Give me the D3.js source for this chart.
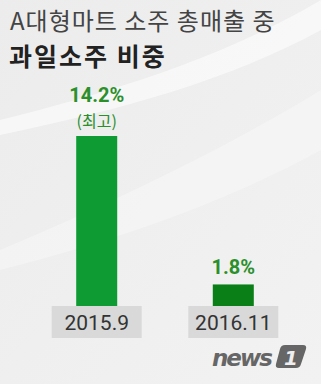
<!DOCTYPE html>
<html>
<head>
<meta charset="utf-8">
<script src="https://cdn.jsdelivr.net/npm/d3@7"></script>
<style>
  html, body { margin: 0; padding: 0; background: #efefef; }
  svg { display: block; }
</style>
</head>
<body>
<div id="chart"></div>
<script>
(function() {
    "use strict";

    var categories = ["2015.9", "2016.11"];
    var values = [14.2, 1.8];
    var valueLabels = ["14.2%", "1.8%"];
    var notes = ["(최고)", ""];
    var barColors = ["#0e9b34", "#0a7f18"];

    var width = 321, height = 384;
    var baseY = 306;

    var svg = d3.select("#chart").append("svg")
        .attr("width", width)
        .attr("height", height);

    // background with soft white swoosh
    var defs = svg.append("defs");
    var bg = defs.append("linearGradient").attr("id", "bg")
        .attr("x1", 0).attr("y1", 0).attr("x2", 1).attr("y2", 1);
    bg.append("stop").attr("offset", "0%").attr("stop-color", "#ececec");
    bg.append("stop").attr("offset", "100%").attr("stop-color", "#f2f2f2");
    svg.append("rect").attr("width", width).attr("height", height).attr("fill", "url(#bg)");
    svg.append("path")
        .attr("d", "M0,120 C100,95 220,60 321,0 L321,30 C230,80 120,110 0,135 Z")
        .attr("fill", "#ffffff").attr("opacity", 0.55);
    svg.append("path")
        .attr("d", "M0,250 C120,200 240,140 321,90 L321,150 C230,200 120,240 0,270 Z")
        .attr("fill", "#ffffff").attr("opacity", 0.3);

    // title
    svg.append("text")
        .attr("x", 10).attr("y", 30)
        .attr("font-family", "'Noto Sans CJK KR', sans-serif")
        .attr("font-size", 24)
        .attr("letter-spacing", 1)
        .attr("fill", "#444")
        .text("A대형마트 소주 총매출 중");
    svg.append("text")
        .attr("x", 9).attr("y", 66)
        .attr("font-family", "'Noto Sans CJK KR', sans-serif")
        .attr("font-size", 25)
        .attr("font-weight", "bold")
        .attr("letter-spacing", 2)
        .attr("fill", "#222")
        .text("과일소주 비중");

    var x = d3.scaleBand()
        .domain(categories)
        .range([25, 305])
        .paddingInner(0.55)
        .paddingOuter(0.3);

    var y = d3.scaleLinear()
        .domain([0, 14.2])
        .range([baseY, 136]);

    var barW = 41;
    var g = svg.append("g");

    categories.forEach(function(c, i) {
        var cx = x(c) + x.bandwidth() / 2;
        g.append("rect")
            .attr("x", cx - barW / 2)
            .attr("y", y(values[i]))
            .attr("width", barW)
            .attr("height", baseY - y(values[i]))
            .attr("fill", barColors[i]);

        // category label box
        g.append("rect")
            .attr("x", cx - 45)
            .attr("y", baseY)
            .attr("width", 90)
            .attr("height", 32)
            .attr("fill", "#d9d9d9");
        g.append("text")
            .attr("x", cx).attr("y", baseY + 24)
            .attr("text-anchor", "middle")
            .attr("font-family", "Roboto, sans-serif")
            .attr("font-size", 21)
            .attr("fill", "#333")
            .text(c);

        var top = y(values[i]);
        var labelY = notes[i] ? top - 34 : top - 10;
        g.append("text")
            .attr("x", cx).attr("y", labelY)
            .attr("text-anchor", "middle")
            .attr("font-family", "Roboto, sans-serif")
            .attr("font-size", 20)
            .attr("font-weight", "bold")
            .attr("fill", "#2b8f2b")
            .text(valueLabels[i]);
        if (notes[i]) {
            g.append("text")
                .attr("x", cx).attr("y", top - 9)
                .attr("text-anchor", "middle")
                .attr("font-family", "'Noto Sans CJK KR', sans-serif")
                .attr("font-size", 16)
                .attr("fill", "#2b8f2b")
                .text(notes[i]);
        }
    });

    // news1 logo
    var logo = svg.append("g");
    logo.append("text")
        .attr("x", 212).attr("y", 366)
        .attr("font-family", "'DejaVu Sans', sans-serif")
        .attr("font-size", 23)
        .attr("font-weight", "bold")
        .attr("font-style", "italic")
        .attr("letter-spacing", -2)
        .attr("fill", "#666")
        .text("news");
    logo.append("path")
        .attr("d", "M285,345 L303,345 Q307,345 306,349 L301,364 Q300,368 296,368 L279,368 Q275,368 276,364 L280,349 Q281,345 285,345 Z")
        .attr("fill", "#666");
    logo.append("text")
        .attr("x", 291).attr("y", 365)
        .attr("text-anchor", "middle")
        .attr("font-family", "'DejaVu Sans', sans-serif")
        .attr("font-size", 20)
        .attr("font-weight", "bold")
        .attr("font-style", "italic")
        .attr("fill", "#efefef")
        .text("1");
})();
</script>
</body>
</html>
